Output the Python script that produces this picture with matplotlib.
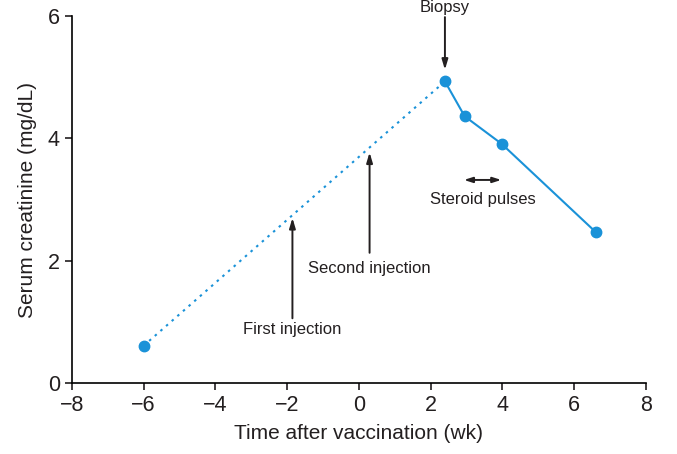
import matplotlib
matplotlib.use("Agg")
import matplotlib.pyplot as plt

plt.rcParams['font.family'] = ['Liberation Sans', 'DejaVu Sans']

# Data
pre_x = [-6, 2.4]
pre_y = [0.61, 4.93]
post_x = [2.4, 2.95, 3.98, 6.6]
post_y = [4.93, 4.36, 3.91, 2.47]
xticks = [-8, -6, -4, -2, 0, 2, 4, 6, 8]
yticks = [0, 2, 4, 6]

blue = '#1a92d8'
dark = '#231f20'

fig = plt.figure(figsize=(6.77, 4.54), dpi=100)
ax = fig.add_axes([0.106, 0.156, 0.848, 0.809])

ax.plot(pre_x, pre_y, color=blue, lw=1.5, ls=(0, (1.2, 2.4)))
ax.plot(post_x, post_y, color=blue, lw=1.5)
ax.plot([pre_x[0]] + post_x, [pre_y[0]] + post_y, ls='none', marker='o',
        ms=7.5, color=blue, mec=blue)

ax.set_xlim(-8, 8)
ax.set_ylim(0, 6)
ax.set_xticks(xticks)
ax.set_yticks(yticks)
ax.set_xticklabels([str(t).replace('-', '\u2212') for t in xticks])
ax.set_yticklabels([str(t) for t in yticks])
for s in ['top', 'right']:
    ax.spines[s].set_visible(False)
for s in ['left', 'bottom']:
    ax.spines[s].set_linewidth(1.2)
ax.tick_params(direction='out', length=5, width=1.2, labelsize=15.5, colors=dark)
ax.set_xlabel('Time after vaccination (wk)', fontsize=15, color=dark, labelpad=6)
ax.set_ylabel('Serum creatinine (mg/dL)', fontsize=15, color=dark, labelpad=8)

arrow_kw = dict(arrowstyle='-|>,head_length=0.6,head_width=0.18', color=dark, lw=1.4,
                shrinkA=0, shrinkB=0)
fs = 12
# First injection
ax.annotate('', xy=(-1.85, 2.70), xytext=(-1.85, 1.06), arrowprops=arrow_kw)
ax.text(-1.85, 0.87, 'First injection', ha='center', va='center', fontsize=fs, color=dark)
# Second injection
ax.annotate('', xy=(0.3, 3.77), xytext=(0.3, 2.13), arrowprops=arrow_kw)
ax.text(0.3, 1.87, 'Second injection', ha='center', va='center', fontsize=fs, color=dark)
# Biopsy
ax.annotate('', xy=(2.4, 5.12), xytext=(2.4, 5.98), arrowprops=arrow_kw, annotation_clip=False)
ax.text(2.4, 6.13, 'Biopsy', ha='center', va='center', fontsize=fs, color=dark, clip_on=False)
# Steroid pulses
ax.annotate('', xy=(3.97, 3.32), xytext=(2.93, 3.32),
            arrowprops=dict(arrowstyle='<|-|>,head_length=0.5,head_width=0.16', color=dark, lw=1.4,
                            shrinkA=0, shrinkB=0))
ax.text(3.45, 3.0, 'Steroid pulses', ha='center', va='center', fontsize=fs, color=dark)

fig.savefig('out.png', dpi=100)
